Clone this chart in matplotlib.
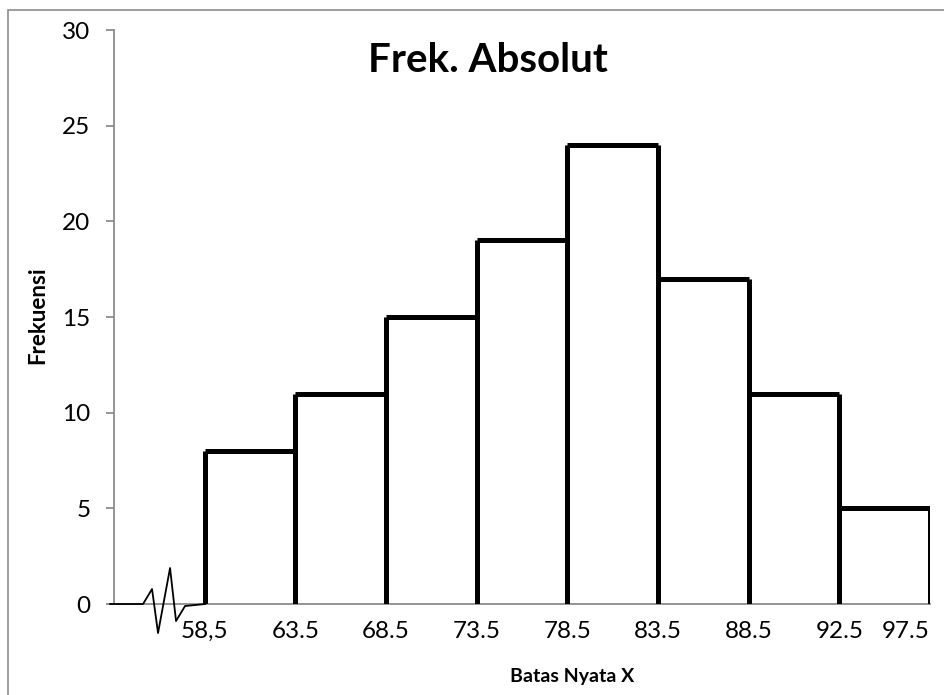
import numpy as np
import matplotlib.pyplot as plt
from matplotlib.patches import Rectangle
from matplotlib.transforms import offset_copy

plt.rcParams['font.family'] = ['Lato', 'DejaVu Sans']

# batas nyata kelas dan frekuensi tiap kelas
batas = ['58,5', '63.5', '68.5', '73.5', '78.5', '83.5', '88.5', '92.5', '97.5']
frekuensi = [8, 11, 15, 19, 24, 17, 11, 5]

fig = plt.figure(figsize=(9.44, 6.95), dpi=100)
ax = fig.add_axes([0.1208, 0.1309, 0.8644, 0.8259])

# posisi kategori: 0 kosong (tempat tanda patah sumbu), batas mulai di 1
pos = np.arange(1, len(batas) + 1)
lw = 3.6
for i, f in enumerate(frekuensi):
    kiri, kanan = pos[i], pos[i + 1]
    ax.vlines([kiri, kanan], 0, f, color='black', lw=lw, zorder=3)
    ax.hlines(f, kiri, kanan, color='black', lw=lw, zorder=3)

ax.set_xlim(0, len(batas))
ax.set_ylim(0, 30)
ax.set_yticks(np.arange(0, 31, 5))
ax.set_xticks(pos)
ax.set_xticklabels(batas)
ax.get_xticklabels()[-1].set_horizontalalignment('right')

for s in ['top', 'right']:
    ax.spines[s].set_visible(False)
for s in ['left', 'bottom']:
    ax.spines[s].set_color('#8c8c8c')
    ax.spines[s].set_linewidth(1.3)
ax.tick_params(axis='y', length=6, color='#8c8c8c', width=1.3, pad=11, labelsize=17.5)
ax.tick_params(axis='x', length=0, pad=12, labelsize=17.5)

# tanda patah sumbu di awal sumbu x (offset piksel dari titik asal)
zz_x = [-4, 29, 38, 44, 56, 62, 71, 91]
zz_y = [0, 0, 15, -29, 36, -17, -2, 0]
inv = fig.transFigure.inverted()
titik = [inv.transform(offset_copy(ax.transData, fig=fig, x=dx, y=dy,
                                   units='dots').transform((0, 0)))
         for dx, dy in zip(zz_x, zz_y)]
titik = np.array(titik)
fig.add_artist(plt.Line2D(titik[:, 0], titik[:, 1], color='black', lw=1.3, zorder=4))

fig.text(0.517, 0.913, 'Frek. Absolut', ha='center', va='center',
         fontsize=29, fontweight='bold')
fig.text(0.040, 0.547, 'Frekuensi', ha='center', va='center', rotation=90,
         fontsize=16, fontweight='bold')
fig.text(0.606, 0.026, 'Batas Nyata X', ha='center', va='center',
         fontsize=14, fontweight='bold')

# bingkai luar grafik
fig.add_artist(Rectangle((0.0085, -0.01), 1.0, 0.9956, transform=fig.transFigure,
                         fill=False, edgecolor='#8c8c8c', lw=1.2))

fig.savefig('out.png', dpi=100)
